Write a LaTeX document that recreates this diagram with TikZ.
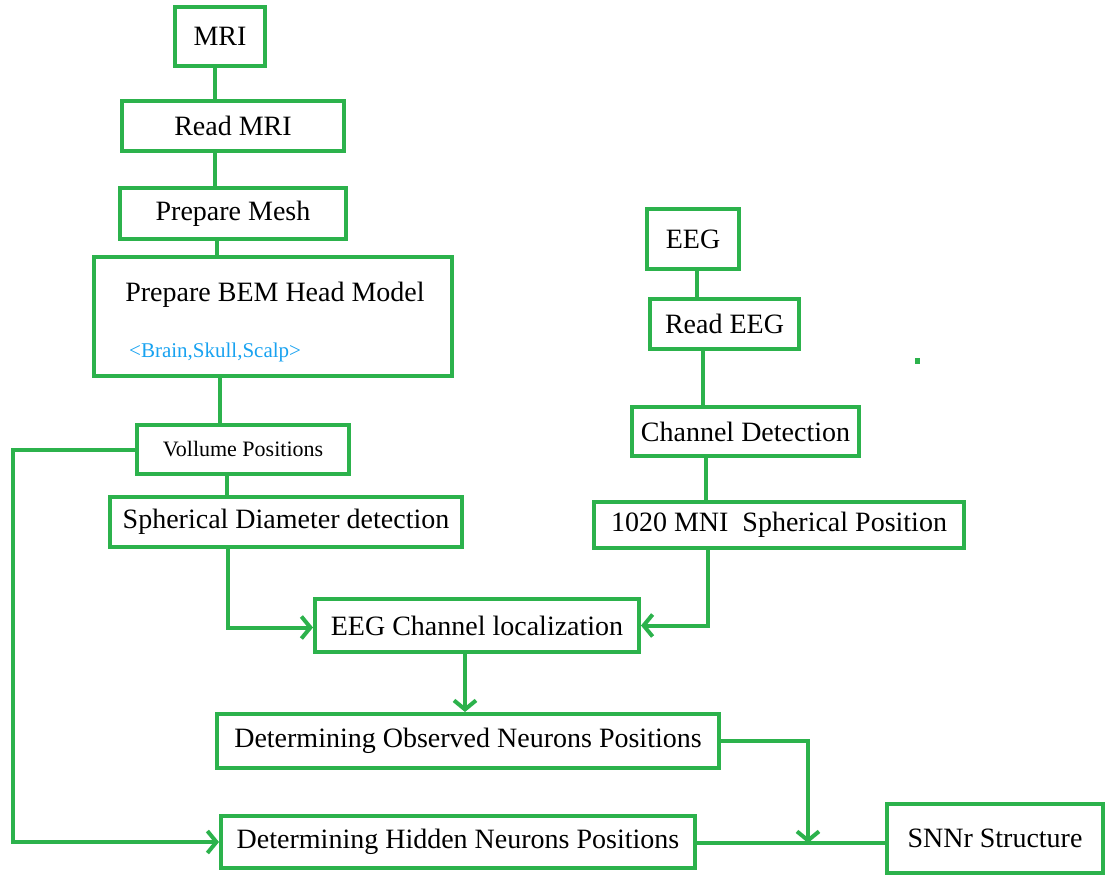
\documentclass[tikz,border=0pt]{standalone}
\usepackage{fontspec}
\setmainfont{Liberation Serif}
\usepackage{xcolor}
\usetikzlibrary{arrows.meta}
\definecolor{boxgreen}{RGB}{44,178,76}
\definecolor{partblue}{RGB}{24,162,240}

\begin{document}
\begin{tikzpicture}[x=1pt, y=-1pt,
  blk/.style={draw=boxgreen, line width=4pt, inner sep=0pt, font=\fontsize{28}{32}\selectfont},
  conn/.style={draw=boxgreen, line width=4pt},
  >={Straight Barb[length=9pt,width=22pt]}]
\useasboundingbox (0,0) rectangle (1108,878);
\node[blk, minimum width=90, minimum height=59] (mri) at (220,36.5) {MRI};
\node[blk, minimum width=222, minimum height=50] (rmri) at (233,126) {Read MRI};
\node[blk, minimum width=226, minimum height=51] (mesh) at (233,213.5) {Prepare Mesh};
\node[blk, minimum width=358, minimum height=119] (bem) at (273,316.5) {};
\node (bemtitle) at (275,295) {\fontsize{28}{32}\selectfont Prepare BEM Head Model};
\node[anchor=west, inner sep=0pt, text=partblue] (bemparts) at (129,352) {\fontsize{21}{24}\selectfont <Brain,Skull,Scalp>};
\node[blk, minimum width=212, minimum height=49, font=\fontsize{22}{26}\selectfont] (vol) at (243,449.5) {Vollume Positions};
\node[blk, minimum width=352, minimum height=50] (sph) at (286,522) {Spherical Diameter detection};
\node[blk, minimum width=92, minimum height=60] (eeg) at (693,239) {EEG};
\node[blk, minimum width=149, minimum height=50] (reeg) at (724.5,324) {Read EEG};
\node[blk, minimum width=227, minimum height=49] (chd) at (745.5,431.5) {Channel Detection};
\node[blk, minimum width=370, minimum height=46] (mni) at (779,525) {1020 MNI \ Spherical Position};
\node[blk, minimum width=324, minimum height=53] (loc) at (477,625.5) {EEG Channel localization};
\node[blk, minimum width=502, minimum height=54] (obs) at (468,741) {Determining Observed Neurons Positions};
\node[blk, minimum width=474, minimum height=52] (hid) at (458,842) {Determining Hidden Neurons Positions};
\node[blk, minimum width=216, minimum height=69] (snn) at (995,838.5) {SNNr Structure};
\coordinate (join) at (808,843);
\draw[conn] ([xshift=-5pt]mri.south) -- ([xshift=-5pt]mri.south |- rmri.north);
\draw[conn] ([xshift=-5pt]mri.south |- rmri.south) -- ([xshift=-5pt]mri.south |- mesh.north);
\draw[conn] ([xshift=-3pt]mri.south |- mesh.south) -- ([xshift=-3pt]mri.south |- bem.north);
\draw[conn] (mri.south |- bem.south) -- (mri.south |- vol.north);
\draw[conn] ([xshift=7pt]mri.south |- vol.south) -- ([xshift=7pt]mri.south |- sph.north);
\draw[conn,->] (vol.west) -- ++(-122,0) |- (hid.west);
\draw[conn,->] ([xshift=-58pt]sph.south) |- ([yshift=-2pt]loc.west);
\draw[conn] ([xshift=4pt]eeg.south) -- ([xshift=4pt]eeg.south |- reeg.north);
\draw[conn] ([xshift=10pt]eeg.south |- reeg.south) -- ([xshift=10pt]eeg.south |- chd.north);
\draw[conn] ([xshift=13pt]eeg.south |- chd.south) -- ([xshift=13pt]eeg.south |- mni.north);
\draw[conn,->] ([xshift=-71pt]mni.south) |- (loc.east);
\draw[conn,->] ([xshift=-12pt]loc.south) -- ([xshift=-12pt]loc.south |- obs.north);
\draw[conn,->] (obs.east) -| (join);
\draw[conn] ([yshift=-1pt]hid.east) -- ([yshift=-1pt]hid.east -| snn.west);
\fill[boxgreen] (915,358) rectangle (920,364);
\end{tikzpicture}
\end{document}
